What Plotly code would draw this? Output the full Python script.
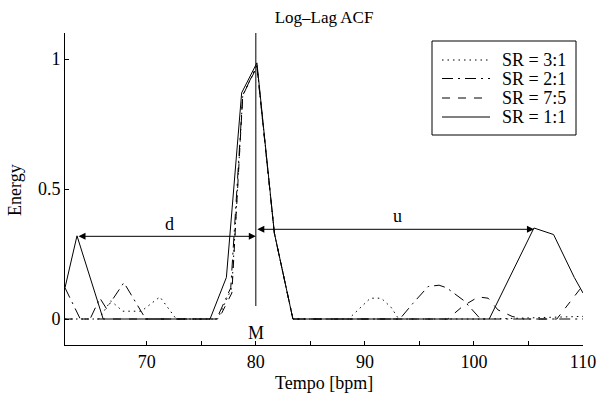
import plotly.graph_objects as go

# ---- data ----
sr31_x = [62.5, 65.6, 66.7, 67.8, 69.5, 71.2, 72.7, 76.5, 77.8, 78.8, 80.1, 81.7, 83.4,
          88.5, 89.5, 90.5, 91.5, 92.4, 93.1, 101.5, 110]
sr31_y = [0.0, 0.0, 0.07, 0.03, 0.03, 0.085, 0.0, 0.0, 0.12, 0.86, 0.975, 0.33, 0.0,
          0.0, 0.04, 0.08, 0.08, 0.045, 0.0, 0.0, 0.01]

sr21_x = [62.5, 63.9, 64.8, 65.7, 66.3, 67.9, 69.9, 76.4, 77.7, 78.8, 80.1, 81.7, 83.4,
          93.2, 94.4, 95.8, 96.8, 97.5, 99.1, 100.6, 110]
sr21_y = [0.12, 0.0, 0.0, 0.08, 0.04, 0.14, 0.0, 0.0, 0.12, 0.86, 0.975, 0.33, 0.0,
          0.0, 0.06, 0.125, 0.13, 0.12, 0.07, 0.0, 0.0]

sr75_x = [62.5, 76.6, 77.8, 78.8, 80.1, 81.7, 83.4, 97.6, 99.0, 100.4, 101.3, 102.2,
          103.5, 104.5, 107.6, 110]
sr75_y = [0.0, 0.0, 0.10, 0.86, 0.97, 0.33, 0.0, 0.0, 0.05, 0.085, 0.08, 0.035,
          0.01, 0.0, 0.0, 0.13]

sr11_x = [62.5, 63.6, 66.0, 75.8, 77.3, 78.7, 80.1, 81.7, 83.4, 101.4, 105.5, 107.3, 109.2, 110]
sr11_y = [0.12, 0.32, 0.0, 0.0, 0.16, 0.87, 0.985, 0.33, 0.0, 0.0, 0.35, 0.325, 0.16, 0.10]

series_names = ["SR = 3:1", "SR = 2:1", "SR = 7:5", "SR = 1:1"]
series_dash = ["1.5px,4px", "11px,5px,2px,5px", "8px,8px", "solid"]

M_x = 80.0
d_left = 63.6
d_y = 0.318
u_right = 105.5
u_y = 0.345

x_ticks = [70, 75, 80, 85, 90, 95, 100, 105, 110]
x_ticktext = ["70", "", "80", "", "90", "", "100", "", "110"]
y_ticks = [0, 0.5, 1]
y_ticktext = ["0", "0.5", "1"]

FONT = "Liberation Serif, Times New Roman, serif"
FS = 18

# plot-area geometry in pixels (for paper-coordinate placement)
L, R, T, B = 65, 583, 33, 345
W, H = R - L, B - T


def px(xp):
    return (xp - L) / W


def py(yp):
    return (B - yp) / H


fig = go.Figure()
for xs, ys, name, dash in zip([sr31_x, sr21_x, sr75_x, sr11_x],
                              [sr31_y, sr21_y, sr75_y, sr11_y],
                              series_names, series_dash):
    fig.add_trace(go.Scatter(x=xs, y=ys, mode="lines", name=name, showlegend=False,
                             line=dict(color="black", width=1, dash=dash)))

# vertical M line
fig.add_trace(go.Scatter(x=[M_x, M_x], y=[0.05, 1.1], mode="lines",
                         line=dict(color="black", width=1), showlegend=False,
                         hoverinfo="skip"))

# arrows
for x0, x1, yy in [(d_left, M_x, d_y), (M_x, u_right, u_y)]:
    fig.add_annotation(x=x1, y=yy, ax=x0, ay=yy, xref="x", yref="y",
                       axref="x", ayref="y", text="", showarrow=True,
                       arrowhead=2, startarrowhead=2, arrowside="end+start",
                       arrowsize=1.4, arrowwidth=1, arrowcolor="black",
                       startarrowsize=1.4)

fig.add_annotation(x=72.1, y=0.365, text="d", showarrow=False,
                   font=dict(family=FONT, size=FS, color="black"))
fig.add_annotation(x=93.0, y=0.395, text="u", showarrow=False,
                   font=dict(family=FONT, size=FS, color="black"))
fig.add_annotation(x=M_x, y=-0.055, text="M", showarrow=False,
                   font=dict(family=FONT, size=FS, color="black"))

# axis titles as annotations (fixed positions)
fig.add_annotation(xref="paper", yref="paper", x=px(15), y=py(190), text="Energy",
                   textangle=-90, showarrow=False, xanchor="center", yanchor="middle",
                   font=dict(family=FONT, size=FS, color="black"))
fig.add_annotation(xref="paper", yref="paper", x=0.5, y=py(383), text="Tempo [bpm]",
                   showarrow=False, xanchor="center", yanchor="middle",
                   font=dict(family=FONT, size=FS, color="black"))

# legend box drawn in paper coordinates
fig.add_shape(type="rect", xref="paper", yref="paper",
              x0=px(432), x1=px(576), y0=py(135), y1=py(41),
              line=dict(color="black", width=1), fillcolor="white", layer="above")
row_y = [60, 78.5, 98, 117]
for name, dash, ry in zip(series_names, series_dash, row_y):
    fig.add_shape(type="line", xref="paper", yref="paper",
                  x0=px(442), x1=px(490), y0=py(ry), y1=py(ry),
                  line=dict(color="black", width=1, dash=dash), layer="above")
    fig.add_annotation(xref="paper", yref="paper", x=px(500), y=py(ry), text=name,
                       showarrow=False, xanchor="left", yanchor="middle",
                       font=dict(family=FONT, size=FS, color="black"))

fig.update_layout(
    width=600, height=397,
    margin=dict(l=L, r=600 - R, t=T, b=397 - B, autoexpand=False),
    paper_bgcolor="white", plot_bgcolor="white",
    font=dict(family=FONT, size=FS, color="black"),
    title=dict(text="Log\u2013Lag ACF", x=324 / 600, xanchor="center",
               y=1 - 17 / 397, yanchor="middle",
               font=dict(family=FONT, size=FS - 1, color="black")),
    showlegend=False,
)
fig.update_xaxes(range=[62.5, 110], tickvals=x_ticks, ticktext=x_ticktext,
                 ticks="inside", ticklen=4, tickcolor="black",
                 showline=True, linecolor="black", linewidth=1, mirror=False,
                 showgrid=False, zeroline=False, automargin=False,
                 tickfont=dict(family=FONT, size=FS))
fig.update_yaxes(range=[-0.1, 1.1], tickvals=y_ticks, ticktext=y_ticktext,
                 ticks="inside", ticklen=4, tickcolor="black",
                 showline=True, linecolor="black", linewidth=1, mirror=False,
                 showgrid=False, zeroline=False, automargin=False,
                 tickfont=dict(family=FONT, size=FS))

fig.write_html("out.html", config={"displayModeBar": False},
               post_script="document.body.style.margin='0';document.body.style.padding='0';")
